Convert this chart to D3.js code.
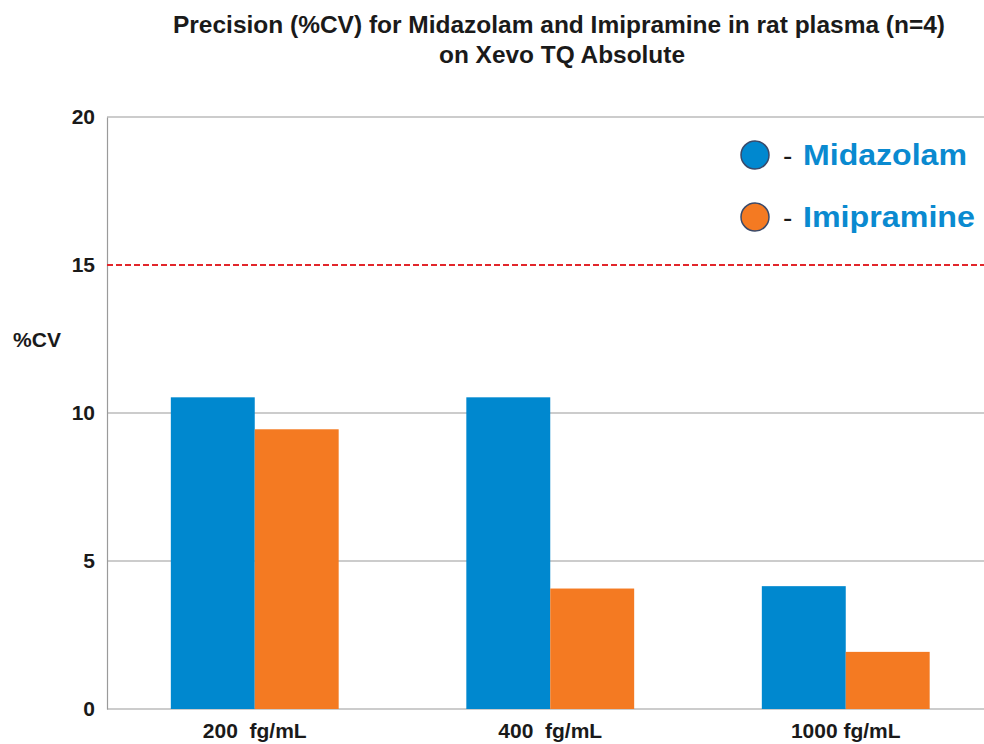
<!DOCTYPE html>
<html>
<head>
<meta charset="utf-8">
<script src="https://cdn.jsdelivr.net/npm/d3@7"></script>
<style>
  body { margin: 0; background: #fff; }
  svg { font-family: "Liberation Sans", Arial, sans-serif; }
</style>
</head>
<body>
<svg id="chart" width="984" height="744"></svg>
<script>
const categories = ['200  fg/mL', '400  fg/mL', '1000 fg/mL'];
const seriesNames = ['Midazolam', 'Imipramine'];
const midazolam = [10.53, 10.53, 4.15];
const imipramine = [9.45, 4.07, 1.93];
const yTicks = [0, 5, 10, 15, 20];
const limit = 15;

const colors = { Midazolam: '#0088cf', Imipramine: '#f47a22' };

const svg = d3.select('#chart');
const plot = { left: 107, right: 993.5, top: 117, bottom: 709 };

const x = d3.scaleBand()
    .domain(categories)
    .range([plot.left, plot.right])
    .paddingInner(0.432)
    .paddingOuter(0.216);

const x1 = d3.scaleBand()
    .domain(seriesNames)
    .range([0, x.bandwidth()]);

const y = d3.scaleLinear()
    .domain([0, 20])
    .range([plot.bottom, plot.top]);

const rows = categories.map((c, i) => ({
    cat: c,
    values: [
        { name: 'Midazolam', value: midazolam[i] },
        { name: 'Imipramine', value: imipramine[i] }
    ]
}));

// title (two lines)
svg.append('text')
    .attr('x', 559).attr('y', 33)
    .attr('text-anchor', 'middle')
    .attr('font-size', 23).attr('font-weight', 'bold').attr('fill', '#1a1a1a')
    .attr('textLength', 772).attr('lengthAdjust', 'spacingAndGlyphs')
    .text('Precision (%CV) for Midazolam and Imipramine in rat plasma (n=4)');
svg.append('text')
    .attr('x', 562).attr('y', 63)
    .attr('text-anchor', 'middle')
    .attr('font-size', 23).attr('font-weight', 'bold').attr('fill', '#1a1a1a')
    .attr('textLength', 246).attr('lengthAdjust', 'spacingAndGlyphs')
    .text('on Xevo TQ Absolute');

// gridlines
svg.append('g')
    .selectAll('line')
    .data(yTicks.filter(d => d !== limit))
    .enter().append('line')
    .attr('x1', plot.left).attr('x2', 984)
    .attr('y1', d => y(d)).attr('y2', d => y(d))
    .attr('stroke', '#9a9a9a').attr('stroke-width', 1.2);

// left axis
const yAxis = svg.append('g')
    .attr('transform', `translate(${plot.left},0)`)
    .call(d3.axisLeft(y).tickValues(yTicks).tickSize(0).tickPadding(12));
yAxis.select('.domain').attr('stroke', '#9a9a9a').attr('stroke-width', 1.2);
yAxis.selectAll('text')
    .attr('font-size', 21).attr('font-weight', 'bold').attr('fill', '#1a1a1a')
    .attr('font-family', '"Liberation Sans", Arial, sans-serif');

svg.append('text')
    .attr('x', 37).attr('y', 347)
    .attr('text-anchor', 'middle')
    .attr('font-size', 21).attr('font-weight', 'bold').attr('fill', '#1a1a1a')
    .text('%CV');

// bars
const groups = svg.append('g')
    .selectAll('g')
    .data(rows)
    .enter().append('g')
    .attr('transform', d => `translate(${x(d.cat)},0)`);

groups.selectAll('rect')
    .data(d => d.values)
    .enter().append('rect')
    .attr('x', d => x1(d.name))
    .attr('y', d => y(d.value))
    .attr('width', x1.bandwidth())
    .attr('height', d => y(0) - y(d.value))
    .attr('fill', d => colors[d.name]);

// 15% limit line
svg.append('line')
    .attr('x1', plot.left).attr('x2', 984)
    .attr('y1', y(limit)).attr('y2', y(limit))
    .attr('stroke', '#e2262b').attr('stroke-width', 2)
    .attr('stroke-dasharray', '6,3');

// x labels
const xAxis = svg.append('g')
    .attr('transform', `translate(0,${plot.bottom})`)
    .call(d3.axisBottom(x).tickSize(0).tickPadding(14));
xAxis.select('.domain').remove();
xAxis.selectAll('text')
    .attr('font-size', 21).attr('font-weight', 'bold').attr('fill', '#1a1a1a')
    .attr('font-family', '"Liberation Sans", Arial, sans-serif')
    .style('white-space', 'pre');

// legend
const legendWidths = { Midazolam: 164, Imipramine: 172 };
const legend = svg.append('g')
    .selectAll('g')
    .data(seriesNames)
    .enter().append('g')
    .attr('transform', (d, i) => `translate(755,${155 + i * 62})`);
legend.append('circle')
    .attr('r', 14)
    .attr('fill', d => colors[d])
    .attr('stroke', '#3a4a6a').attr('stroke-width', 1.5);
legend.append('text')
    .attr('x', 28).attr('y', 10)
    .attr('font-size', 28).attr('fill', '#1a1a1a')
    .text('-');
legend.append('text')
    .attr('x', 48).attr('y', 10)
    .attr('font-size', 29).attr('font-weight', 'bold').attr('fill', '#0a8ad0')
    .attr('textLength', d => legendWidths[d]).attr('lengthAdjust', 'spacingAndGlyphs')
    .text(d => d);
</script>
</body>
</html>
